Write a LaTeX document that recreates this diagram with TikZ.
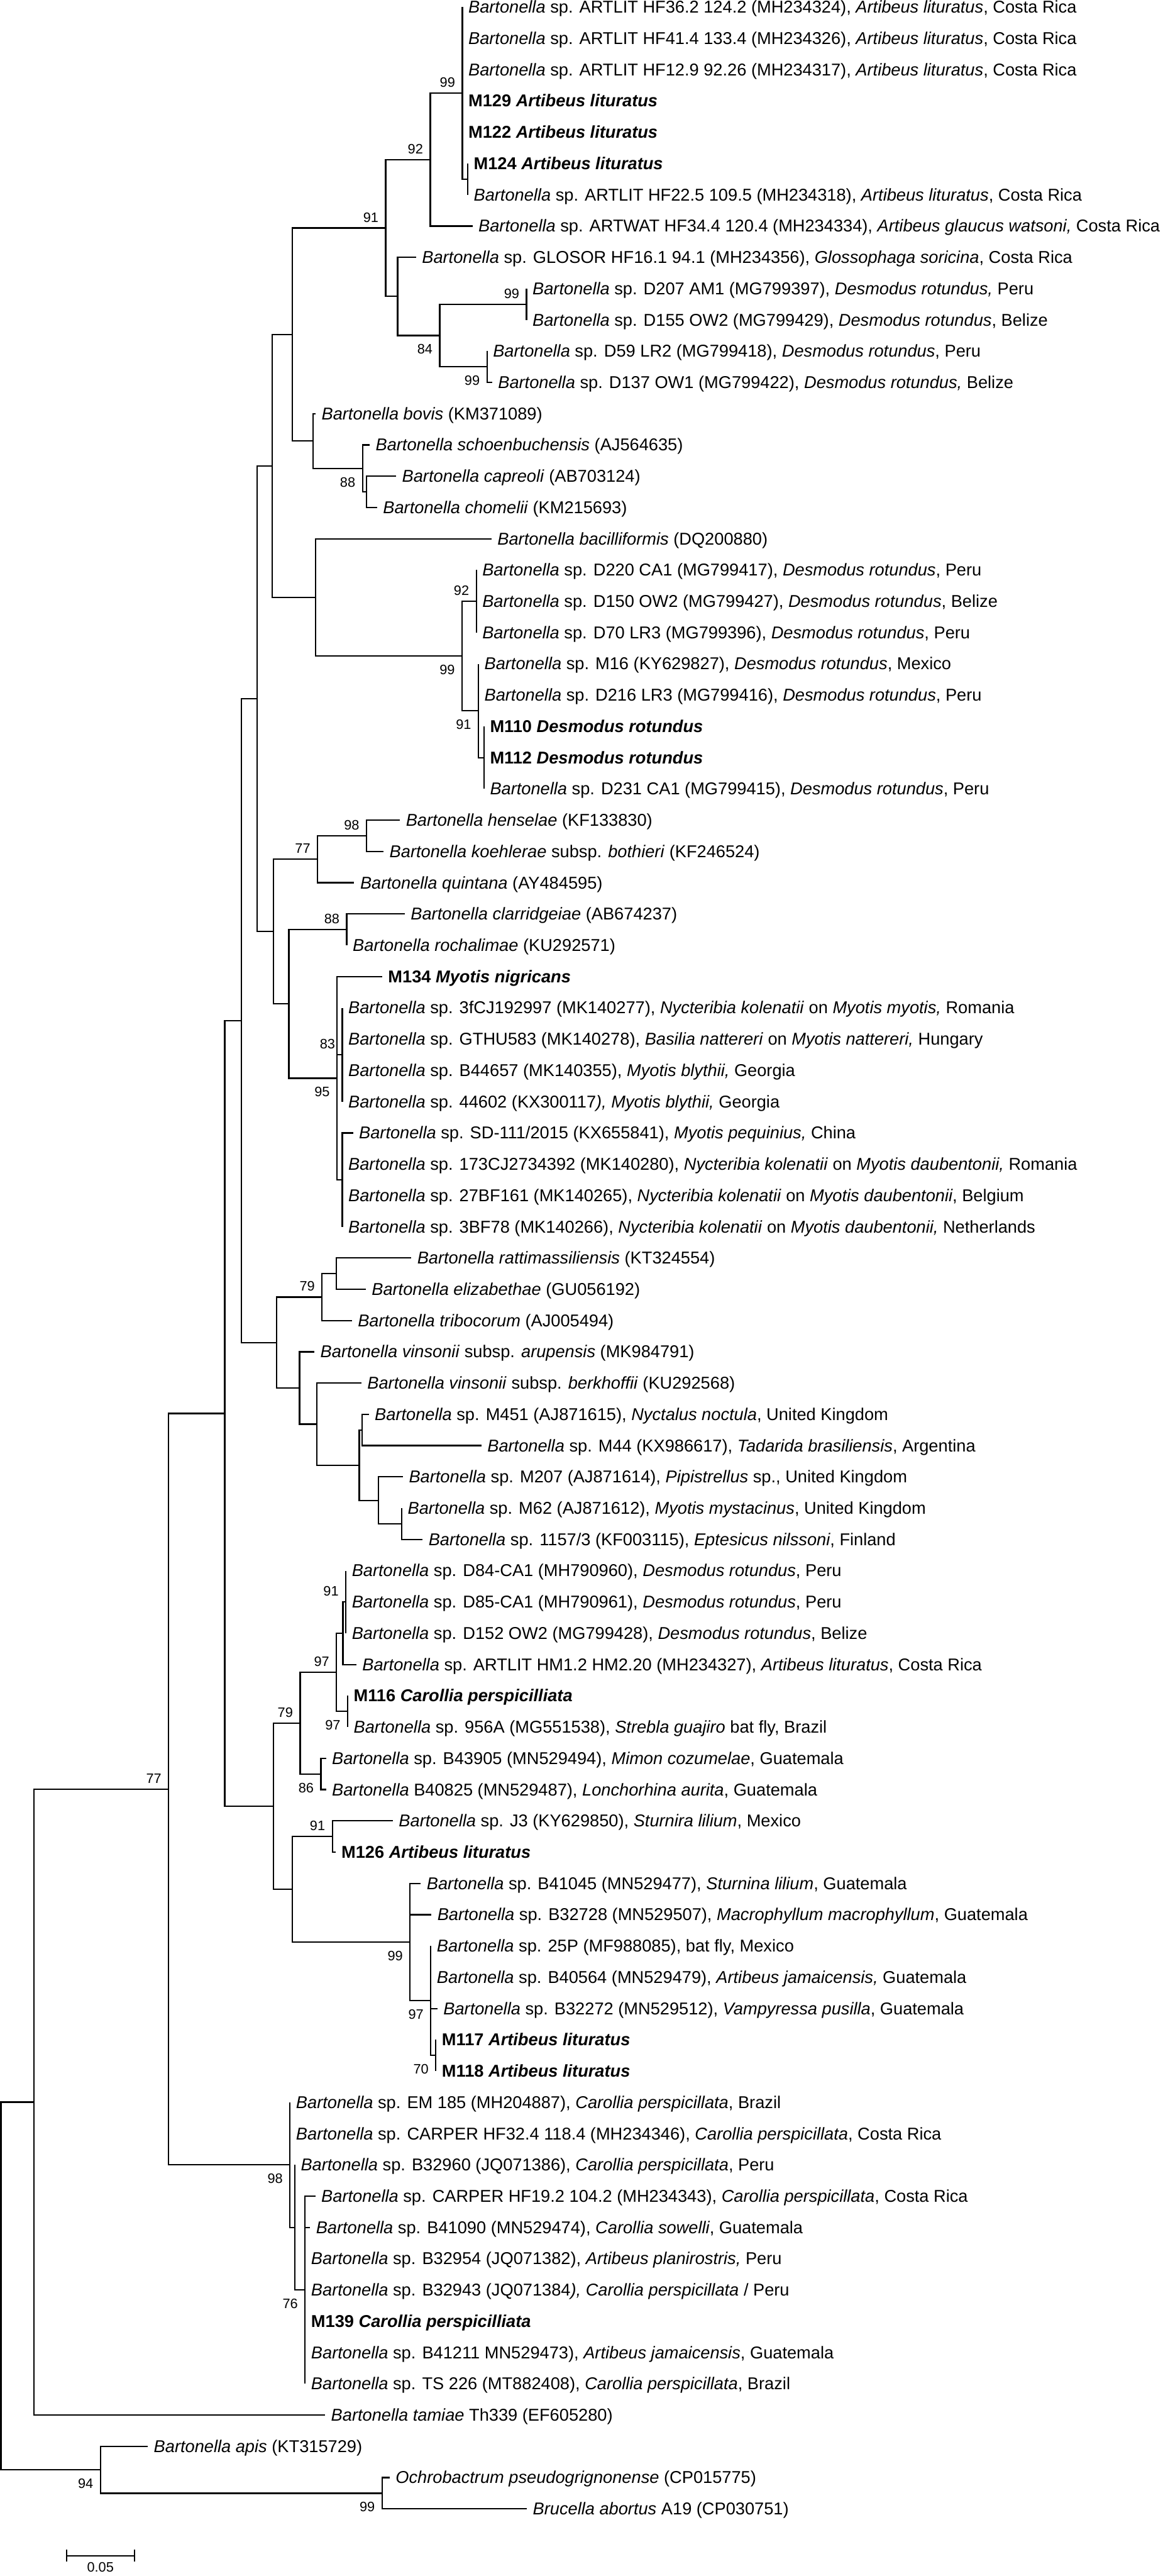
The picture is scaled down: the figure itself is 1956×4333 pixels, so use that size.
\documentclass[tikz,border=0pt]{standalone}
\usepackage{fontspec}
\setmainfont{Liberation Sans}
\newcommand\bart{\textit{Bartonella}}
\begin{document}
\begin{tikzpicture}[x=0.5pt,y=-0.5pt,line width=1.2pt,
  declare function={ly(\k)=12+52.6*(\k-1);},
  leaf/.style={anchor=base west,inner sep=0pt,xshift=4.5pt,yshift=-5pt,font=\fontsize{14.4}{16}\selectfont},
  bsa/.style={anchor=base east,inner sep=0pt,xshift=-5.5pt,yshift=5pt,font=\fontsize{11.5}{13}\selectfont},
  bsb/.style={anchor=base east,inner sep=0pt,xshift=-5.5pt,yshift=-15.5pt,font=\fontsize{11.5}{13}\selectfont}]
\useasboundingbox (0,0) rectangle (1956,4333);
% ---- internal nodes
\coordinate (S1) at (787,301.3);
\coordinate (A99) at (778,156.65);
\coordinate (B92) at (724,268.4);
\coordinate (F99) at (886,511.7);
\coordinate (G99) at (819.5,616.9);
\coordinate (E84) at (740,564.3);
\coordinate (D) at (669,498.55);
\coordinate (C91) at (649,383.5);
\coordinate (J) at (617,827.3);
\coordinate (I88) at (610,787.85);
\coordinate (H) at (527,741.8);
\coordinate (K) at (492,562.65);
\coordinate (O92) at (801.5,1011.4);
\coordinate (Q) at (814.4,1274.4);
\coordinate (P91) at (805,1195.5);
\coordinate (N99) at (777.5,1103.45);
\coordinate (M) at (531,1004.8);
\coordinate (L) at (458,783.7);
\coordinate (R98) at (616.7,1405.9);
\coordinate (S77) at (534.4,1445.35);
\coordinate (V88) at (583.5,1563.7);
\coordinate (X83) at (576,1774.1);
\coordinate (Y) at (576,1984.5);
\coordinate (W95) at (567,1813.55);
\coordinate (U) at (486,1688.6);
\coordinate (T) at (460.5,1567);
\coordinate (AJ) at (432.4,1175.35);
\coordinate (Z79) at (565.7,2142.3);
\coordinate (AA79) at (542,2181.75);
\coordinate (AH) at (676,2563.1);
\coordinate (AG) at (636.5,2523.65);
\coordinate (AF) at (609,2405.3);
\coordinate (AE) at (604.6,2464.5);
\coordinate (AD) at (533,2395.45);
\coordinate (AC) at (504,2334.6);
\coordinate (AB) at (465.6,2258.2);
\coordinate (AK) at (406.3,1716.8);
\coordinate (AN91) at (582,2694.6);
\coordinate (AO) at (577,2747.2);
\coordinate (AQ97) at (585,2878.7);
\coordinate (AP97) at (566.3,2812.95);
\coordinate (AS86) at (540,2983.9);
\coordinate (AR79) at (505,2898.4);
\coordinate (AV91) at (559.3,3089.1);
\coordinate (AY70) at (733.4,3457.3);
\coordinate (AX97) at (725,3365.25);
\coordinate (AW99) at (690,3266.6);
\coordinate (AU) at (491.7,3177.85);
\coordinate (AT) at (460.5,3038.1);
\coordinate (AL) at (378.2,2377.45);
\coordinate (BC76) at (513.4,3851.8);
\coordinate (BB) at (496,3746.6);
\coordinate (BA98) at (488,3641.4);
\coordinate (AZ77) at (283.8,3009.4);
\coordinate (BD) at (57.4,3535.8);
\coordinate (BF99) at (643,4193.7);
\coordinate (BE94) at (169,4154.25);
\coordinate (root) at (1.5,3845);
% ---- tips
\coordinate (t1) at (778,{ly(1)});
\coordinate (t2) at (778,{ly(2)});
\coordinate (t3) at (778,{ly(3)});
\coordinate (t4) at (778,{ly(4)});
\coordinate (t5) at (778,{ly(5)});
\coordinate (t6) at (787,{ly(6)});
\coordinate (t7) at (787,{ly(7)});
\coordinate (t8) at (795,{ly(8)});
\coordinate (t9) at (700,{ly(9)});
\coordinate (t10) at (886,{ly(10)});
\coordinate (t11) at (886,{ly(11)});
\coordinate (t12) at (819.5,{ly(12)});
\coordinate (t13) at (828,{ly(13)});
\coordinate (t14) at (531,{ly(14)});
\coordinate (t15) at (622,{ly(15)});
\coordinate (t16) at (666.5,{ly(16)});
\coordinate (t17) at (634.5,{ly(17)});
\coordinate (t18) at (827,{ly(18)});
\coordinate (t19) at (801.5,{ly(19)});
\coordinate (t20) at (801.5,{ly(20)});
\coordinate (t21) at (801.5,{ly(21)});
\coordinate (t22) at (805,{ly(22)});
\coordinate (t23) at (805,{ly(23)});
\coordinate (t24) at (814.4,{ly(24)});
\coordinate (t25) at (814.4,{ly(25)});
\coordinate (t26) at (814.4,{ly(26)});
\coordinate (t27) at (673,{ly(27)});
\coordinate (t28) at (645.4,{ly(28)});
\coordinate (t29) at (596,{ly(29)});
\coordinate (t30) at (681,{ly(30)});
\coordinate (t31) at (583.5,{ly(31)});
\coordinate (t32) at (643,{ly(32)});
\coordinate (t33) at (576,{ly(33)});
\coordinate (t34) at (576,{ly(34)});
\coordinate (t35) at (576,{ly(35)});
\coordinate (t36) at (576,{ly(36)});
\coordinate (t37) at (594,{ly(37)});
\coordinate (t38) at (576,{ly(38)});
\coordinate (t39) at (576,{ly(39)});
\coordinate (t40) at (576,{ly(40)});
\coordinate (t41) at (692,{ly(41)});
\coordinate (t42) at (615.4,{ly(42)});
\coordinate (t43) at (592,{ly(43)});
\coordinate (t44) at (529,{ly(44)});
\coordinate (t45) at (608,{ly(45)});
\coordinate (t46) at (620.5,{ly(46)});
\coordinate (t47) at (810,{ly(47)});
\coordinate (t48) at (678,{ly(48)});
\coordinate (t49) at (676,{ly(49)});
\coordinate (t50) at (711,{ly(50)});
\coordinate (t51) at (582,{ly(51)});
\coordinate (t52) at (582,{ly(52)});
\coordinate (t53) at (582,{ly(53)});
\coordinate (t54) at (599.5,{ly(54)});
\coordinate (t55) at (585,{ly(55)});
\coordinate (t56) at (585,{ly(56)});
\coordinate (t57) at (548.5,{ly(57)});
\coordinate (t58) at (548.5,{ly(58)});
\coordinate (t59) at (661,{ly(59)});
\coordinate (t60) at (564.4,{ly(60)});
\coordinate (t61) at (708,{ly(61)});
\coordinate (t62) at (725.8,{ly(62)});
\coordinate (t63) at (725,{ly(63)});
\coordinate (t64) at (725,{ly(64)});
\coordinate (t65) at (736,{ly(65)});
\coordinate (t66) at (733.4,{ly(66)});
\coordinate (t67) at (733.4,{ly(67)});
\coordinate (t68) at (488,{ly(68)});
\coordinate (t69) at (488,{ly(69)});
\coordinate (t70) at (496,{ly(70)});
\coordinate (t71) at (530.6,{ly(71)});
\coordinate (t72) at (521.7,{ly(72)});
\coordinate (t73) at (513.4,{ly(73)});
\coordinate (t74) at (513.4,{ly(74)});
\coordinate (t75) at (513.4,{ly(75)});
\coordinate (t76) at (513.4,{ly(76)});
\coordinate (t77) at (513.4,{ly(77)});
\coordinate (t78) at (547,{ly(78)});
\coordinate (t79) at (248.7,{ly(79)});
\coordinate (t80) at (655.6,{ly(80)});
\coordinate (t81) at (886.5,{ly(81)});
% ---- branches
\foreach \c in {t1,t2,t3,t4,t5,S1} \draw (A99) |- (\c);
\foreach \c in {t6,t7} \draw (S1) |- (\c);
\foreach \c in {A99,t8} \draw (B92) |- (\c);
\foreach \c in {t10,t11} \draw (F99) |- (\c);
\foreach \c in {t12,t13} \draw (G99) |- (\c);
\foreach \c in {F99,G99} \draw (E84) |- (\c);
\foreach \c in {t9,E84} \draw (D) |- (\c);
\foreach \c in {B92,D} \draw (C91) |- (\c);
\foreach \c in {t16,t17} \draw (J) |- (\c);
\foreach \c in {t15,J} \draw (I88) |- (\c);
\foreach \c in {t14,I88} \draw (H) |- (\c);
\foreach \c in {C91,H} \draw (K) |- (\c);
\foreach \c in {t19,t20,t21} \draw (O92) |- (\c);
\foreach \c in {t24,t25,t26} \draw (Q) |- (\c);
\foreach \c in {t22,t23,Q} \draw (P91) |- (\c);
\foreach \c in {O92,P91} \draw (N99) |- (\c);
\foreach \c in {t18,N99} \draw (M) |- (\c);
\foreach \c in {K,M} \draw (L) |- (\c);
\foreach \c in {t27,t28} \draw (R98) |- (\c);
\foreach \c in {R98,t29} \draw (S77) |- (\c);
\foreach \c in {t30,t31} \draw (V88) |- (\c);
\foreach \c in {t33,t34,t35,t36} \draw (X83) |- (\c);
\foreach \c in {t37,t38,t39,t40} \draw (Y) |- (\c);
\foreach \c in {t32,X83,Y} \draw (W95) |- (\c);
\foreach \c in {V88,W95} \draw (U) |- (\c);
\foreach \c in {S77,U} \draw (T) |- (\c);
\foreach \c in {L,T} \draw (AJ) |- (\c);
\foreach \c in {t41,t42} \draw (Z79) |- (\c);
\foreach \c in {Z79,t43} \draw (AA79) |- (\c);
\foreach \c in {t49,t50} \draw (AH) |- (\c);
\foreach \c in {t48,AH} \draw (AG) |- (\c);
\foreach \c in {t46,t47} \draw (AF) |- (\c);
\foreach \c in {AF,AG} \draw (AE) |- (\c);
\foreach \c in {t45,AE} \draw (AD) |- (\c);
\foreach \c in {t44,AD} \draw (AC) |- (\c);
\foreach \c in {AA79,AC} \draw (AB) |- (\c);
\foreach \c in {AJ,AB} \draw (AK) |- (\c);
\foreach \c in {t51,t52,t53} \draw (AN91) |- (\c);
\foreach \c in {AN91,t54} \draw (AO) |- (\c);
\foreach \c in {t55,t56} \draw (AQ97) |- (\c);
\foreach \c in {AO,AQ97} \draw (AP97) |- (\c);
\foreach \c in {t57,t58} \draw (AS86) |- (\c);
\foreach \c in {AP97,AS86} \draw (AR79) |- (\c);
\foreach \c in {t59,t60} \draw (AV91) |- (\c);
\foreach \c in {t66,t67} \draw (AY70) |- (\c);
\foreach \c in {t63,t64,t65,AY70} \draw (AX97) |- (\c);
\foreach \c in {t61,t62,AX97} \draw (AW99) |- (\c);
\foreach \c in {AV91,AW99} \draw (AU) |- (\c);
\foreach \c in {AR79,AU} \draw (AT) |- (\c);
\foreach \c in {AK,AT} \draw (AL) |- (\c);
\foreach \c in {t71,t72,t73,t74,t75,t76,t77} \draw (BC76) |- (\c);
\foreach \c in {t70,BC76} \draw (BB) |- (\c);
\foreach \c in {t68,t69,BB} \draw (BA98) |- (\c);
\foreach \c in {AL,BA98} \draw (AZ77) |- (\c);
\foreach \c in {AZ77,t78} \draw (BD) |- (\c);
\foreach \c in {t80,t81} \draw (BF99) |- (\c);
\foreach \c in {t79,BF99} \draw (BE94) |- (\c);
\foreach \c in {BD,BE94} \draw (root) |- (\c);
% ---- bootstrap values
\node[bsa] (b1) at (A99) {99};
\node[bsa] (b2) at (B92) {92};
\node[bsa] (b3) at (C91) {91};
\node[bsa] (b4) at (F99) {99};
\node[bsb] (b5) at (E84) {84};
\node[bsb] (b6) at (G99) {99};
\node[bsb] (b7) at (I88) {88};
\node[bsa] (b8) at (O92) {92};
\node[bsb] (b9) at (N99) {99};
\node[bsb] (b10) at (P91) {91};
\node[bsa] (b11) at (R98) {98};
\node[bsa] (b12) at (S77) {77};
\node[bsa] (b13) at (V88) {88};
\node[bsa] (b14) at (X83) {83};
\node[bsb] (b15) at (W95) {95};
\node[bsa] (b16) at (AA79) {79};
\node[bsa] (b17) at (AN91) {91};
\node[bsa] (b18) at (AP97) {97};
\node[bsb] (b19) at (AQ97) {97};
\node[bsa] (b20) at (AR79) {79};
\node[bsb] (b21) at (AS86) {86};
\node[bsa] (b22) at (AV91) {91};
\node[bsb] (b23) at (AW99) {99};
\node[bsb] (b24) at (AX97) {97};
\node[bsb] (b25) at (AY70) {70};
\node[bsa] (b26) at (AZ77) {77};
\node[bsb] (b27) at (BA98) {98};
\node[bsb] (b28) at (BC76) {76};
\node[bsb] (b29) at (BE94) {94};
\node[bsb] (b30) at (BF99) {99};
% ---- leaf labels
\node[leaf] (l1) at (t1) {\bart{} sp. ARTLIT HF36.2 124.2 (MH234324), \textit{Artibeus lituratus}, Costa Rica};
\node[leaf] (l2) at (t2) {\bart{} sp. ARTLIT HF41.4 133.4 (MH234326), \textit{Artibeus lituratus}, Costa Rica};
\node[leaf] (l3) at (t3) {\bart{} sp. ARTLIT HF12.9 92.26 (MH234317), \textit{Artibeus lituratus}, Costa Rica};
\node[leaf] (l4) at (t4) {\textbf{M129 \textit{Artibeus lituratus}}};
\node[leaf] (l5) at (t5) {\textbf{M122 \textit{Artibeus lituratus}}};
\node[leaf] (l6) at (t6) {\textbf{M124 \textit{Artibeus lituratus}}};
\node[leaf] (l7) at (t7) {\bart{} sp. ARTLIT HF22.5 109.5 (MH234318), \textit{Artibeus lituratus}, Costa Rica};
\node[leaf] (l8) at (t8) {\bart{} sp. ARTWAT HF34.4 120.4 (MH234334), \textit{Artibeus glaucus watsoni,} Costa Rica};
\node[leaf] (l9) at (t9) {\bart{} sp. GLOSOR HF16.1 94.1 (MH234356), \textit{Glossophaga soricina}, Costa Rica};
\node[leaf] (l10) at (t10) {\bart{} sp. D207 AM1 (MG799397), \textit{Desmodus rotundus,} Peru};
\node[leaf] (l11) at (t11) {\bart{} sp. D155 OW2 (MG799429), \textit{Desmodus rotundus}, Belize};
\node[leaf] (l12) at (t12) {\bart{} sp. D59 LR2 (MG799418), \textit{Desmodus rotundus}, Peru};
\node[leaf] (l13) at (t13) {\bart{} sp. D137 OW1 (MG799422), \textit{Desmodus rotundus,} Belize};
\node[leaf] (l14) at (t14) {\textit{Bartonella bovis} (KM371089)};
\node[leaf] (l15) at (t15) {\textit{Bartonella schoenbuchensis} (AJ564635)};
\node[leaf] (l16) at (t16) {\textit{Bartonella capreoli} (AB703124)};
\node[leaf] (l17) at (t17) {\textit{Bartonella chomelii} (KM215693)};
\node[leaf] (l18) at (t18) {\textit{Bartonella bacilliformis} (DQ200880)};
\node[leaf] (l19) at (t19) {\bart{} sp. D220 CA1 (MG799417), \textit{Desmodus rotundus}, Peru};
\node[leaf] (l20) at (t20) {\bart{} sp. D150 OW2 (MG799427), \textit{Desmodus rotundus}, Belize};
\node[leaf] (l21) at (t21) {\bart{} sp. D70 LR3 (MG799396), \textit{Desmodus rotundus}, Peru};
\node[leaf] (l22) at (t22) {\bart{} sp. M16 (KY629827), \textit{Desmodus rotundus}, Mexico};
\node[leaf] (l23) at (t23) {\bart{} sp. D216 LR3 (MG799416), \textit{Desmodus rotundus}, Peru};
\node[leaf] (l24) at (t24) {\textbf{M110 \textit{Desmodus rotundus}}};
\node[leaf] (l25) at (t25) {\textbf{M112 \textit{Desmodus rotundus}}};
\node[leaf] (l26) at (t26) {\bart{} sp. D231 CA1 (MG799415), \textit{Desmodus rotundus}, Peru};
\node[leaf] (l27) at (t27) {\textit{Bartonella henselae} (KF133830)};
\node[leaf] (l28) at (t28) {\textit{Bartonella koehlerae} subsp. \textit{bothieri} (KF246524)};
\node[leaf] (l29) at (t29) {\textit{Bartonella quintana} (AY484595)};
\node[leaf] (l30) at (t30) {\textit{Bartonella clarridgeiae} (AB674237)};
\node[leaf] (l31) at (t31) {\textit{Bartonella rochalimae} (KU292571)};
\node[leaf] (l32) at (t32) {\textbf{M134 \textit{Myotis nigricans}}};
\node[leaf] (l33) at (t33) {\bart{} sp. 3fCJ192997 (MK140277), \textit{Nycteribia kolenatii} on \textit{Myotis myotis,} Romania};
\node[leaf] (l34) at (t34) {\bart{} sp. GTHU583 (MK140278), \textit{Basilia nattereri} on \textit{Myotis nattereri,} Hungary};
\node[leaf] (l35) at (t35) {\bart{} sp. B44657 (MK140355), \textit{Myotis blythii,} Georgia};
\node[leaf] (l36) at (t36) {\bart{} sp. 44602 (KX300117\textit{), Myotis blythii,} Georgia};
\node[leaf] (l37) at (t37) {\bart{} sp. SD-111/2015 (KX655841), \textit{Myotis pequinius,} China};
\node[leaf] (l38) at (t38) {\bart{} sp. 173CJ2734392 (MK140280), \textit{Nycteribia kolenatii} on \textit{Myotis daubentonii,} Romania};
\node[leaf] (l39) at (t39) {\bart{} sp. 27BF161 (MK140265), \textit{Nycteribia kolenatii} on \textit{Myotis daubentonii}, Belgium};
\node[leaf] (l40) at (t40) {\bart{} sp. 3BF78 (MK140266), \textit{Nycteribia kolenatii} on \textit{Myotis daubentonii,} Netherlands};
\node[leaf] (l41) at (t41) {\textit{Bartonella rattimassiliensis} (KT324554)};
\node[leaf] (l42) at (t42) {\textit{Bartonella elizabethae} (GU056192)};
\node[leaf] (l43) at (t43) {\textit{Bartonella tribocorum} (AJ005494)};
\node[leaf] (l44) at (t44) {\textit{Bartonella vinsonii} subsp. \textit{arupensis} (MK984791)};
\node[leaf] (l45) at (t45) {\textit{Bartonella vinsonii} subsp. \textit{berkhoffii} (KU292568)};
\node[leaf] (l46) at (t46) {\bart{} sp. M451 (AJ871615), \textit{Nyctalus noctula}, United Kingdom};
\node[leaf] (l47) at (t47) {\bart{} sp. M44 (KX986617), \textit{Tadarida brasiliensis}, Argentina};
\node[leaf] (l48) at (t48) {\bart{} sp. M207 (AJ871614), \textit{Pipistrellus} sp., United Kingdom};
\node[leaf] (l49) at (t49) {\bart{} sp. M62 (AJ871612), \textit{Myotis mystacinus}, United Kingdom};
\node[leaf] (l50) at (t50) {\bart{} sp. 1157/3 (KF003115), \textit{Eptesicus nilssoni}, Finland};
\node[leaf] (l51) at (t51) {\bart{} sp. D84-CA1 (MH790960), \textit{Desmodus rotundus}, Peru};
\node[leaf] (l52) at (t52) {\bart{} sp. D85-CA1 (MH790961), \textit{Desmodus rotundus}, Peru};
\node[leaf] (l53) at (t53) {\bart{} sp. D152 OW2 (MG799428), \textit{Desmodus rotundus}, Belize};
\node[leaf] (l54) at (t54) {\bart{} sp. ARTLIT HM1.2 HM2.20 (MH234327), \textit{Artibeus lituratus}, Costa Rica};
\node[leaf] (l55) at (t55) {\textbf{M116 \textit{Carollia perspicilliata}}};
\node[leaf] (l56) at (t56) {\bart{} sp. 956A (MG551538), \textit{Strebla guajiro} bat fly, Brazil};
\node[leaf] (l57) at (t57) {\bart{} sp. B43905 (MN529494), \textit{Mimon cozumelae}, Guatemala};
\node[leaf] (l58) at (t58) {\bart{} B40825 (MN529487), \textit{Lonchorhina aurita}, Guatemala};
\node[leaf] (l59) at (t59) {\bart{} sp. J3 (KY629850), \textit{Sturnira lilium}, Mexico};
\node[leaf] (l60) at (t60) {\textbf{M126 \textit{Artibeus lituratus}}};
\node[leaf] (l61) at (t61) {\bart{} sp. B41045 (MN529477), \textit{Sturnina lilium}, Guatemala};
\node[leaf] (l62) at (t62) {\bart{} sp. B32728 (MN529507), \textit{Macrophyllum macrophyllum}, Guatemala};
\node[leaf] (l63) at (t63) {\bart{} sp. 25P (MF988085), bat fly, Mexico};
\node[leaf] (l64) at (t64) {\bart{} sp. B40564 (MN529479), \textit{Artibeus jamaicensis,} Guatemala};
\node[leaf] (l65) at (t65) {\bart{} sp. B32272 (MN529512), \textit{Vampyressa pusilla}, Guatemala};
\node[leaf] (l66) at (t66) {\textbf{M117 \textit{Artibeus lituratus}}};
\node[leaf] (l67) at (t67) {\textbf{M118 \textit{Artibeus lituratus}}};
\node[leaf] (l68) at (t68) {\bart{} sp. EM 185 (MH204887), \textit{Carollia perspicillata}, Brazil};
\node[leaf] (l69) at (t69) {\bart{} sp. CARPER HF32.4 118.4 (MH234346), \textit{Carollia perspicillata}, Costa Rica};
\node[leaf] (l70) at (t70) {\bart{} sp. B32960 (JQ071386), \textit{Carollia perspicillata}, Peru};
\node[leaf] (l71) at (t71) {\bart{} sp. CARPER HF19.2 104.2 (MH234343), \textit{Carollia perspicillata}, Costa Rica};
\node[leaf] (l72) at (t72) {\bart{} sp. B41090 (MN529474), \textit{Carollia sowelli}, Guatemala};
\node[leaf] (l73) at (t73) {\bart{} sp. B32954 (JQ071382), \textit{Artibeus planirostris,} Peru};
\node[leaf] (l74) at (t74) {\bart{} sp. B32943 (JQ071384\textit{), Carollia perspicillata} / Peru};
\node[leaf] (l75) at (t75) {\textbf{M139 \textit{Carollia perspicilliata}}};
\node[leaf] (l76) at (t76) {\bart{} sp. B41211 MN529473), \textit{Artibeus jamaicensis}, Guatemala};
\node[leaf] (l77) at (t77) {\bart{} sp. TS 226 (MT882408), \textit{Carollia perspicillata}, Brazil};
\node[leaf] (l78) at (t78) {\textit{Bartonella tamiae} Th339 (EF605280)};
\node[leaf] (l79) at (t79) {\textit{Bartonella apis} (KT315729)};
\node[leaf] (l80) at (t80) {\textit{Ochrobactrum pseudogrignonense} (CP015775)};
\node[leaf] (l81) at (t81) {\textit{Brucella abortus} A19 (CP030751)};
% ---- scale bar
\coordinate (sb1) at (112,4299);
\coordinate (sb2) at (226,4299);
\draw (sb1) -- (sb2);
\draw ([yshift=5pt]sb1) -- ([yshift=-5pt]sb1);
\draw ([yshift=5pt]sb2) -- ([yshift=-5pt]sb2);
\node[anchor=base,inner sep=0pt,font=\fontsize{11.5}{13}\selectfont] (sbl) at (169,4326) {0.05};
\end{tikzpicture}
\end{document}
